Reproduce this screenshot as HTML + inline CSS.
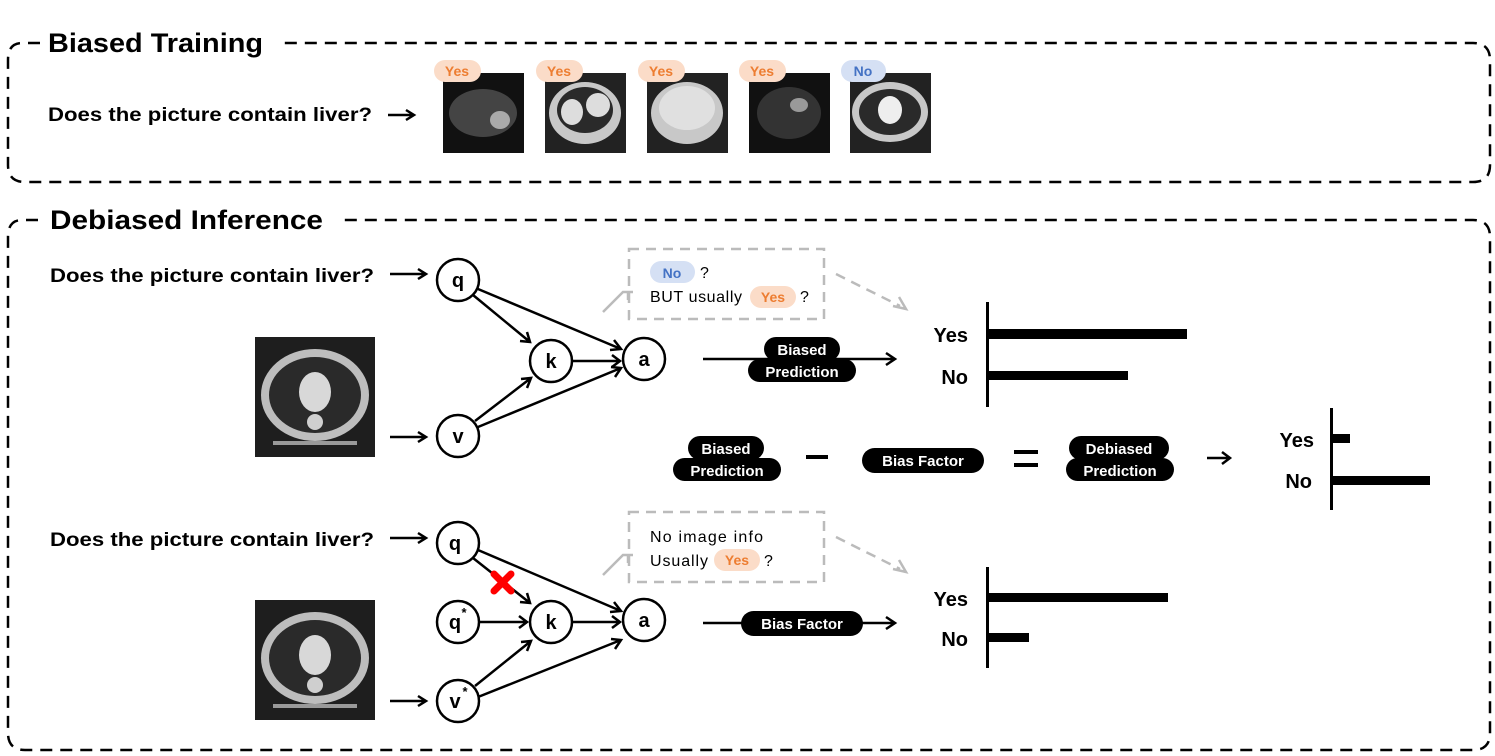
<!DOCTYPE html>
<html><head><meta charset="utf-8"><style>
html,body{margin:0;padding:0;background:#fff}
svg{display:block}
text{font-family:"Liberation Sans",sans-serif}
.b{font-weight:bold}
</style></head><body>
<svg width="1495" height="756" viewBox="0 0 1495 756" xmlns="http://www.w3.org/2000/svg">
<defs>
<marker id="ar" viewBox="0 0 10 10" refX="9" refY="5" markerWidth="7" markerHeight="7" orient="auto" markerUnits="userSpaceOnUse">
</marker>
<g id="ct">
<rect x="0" y="0" width="120" height="120" fill="#1e1e1e"/>
<ellipse cx="60" cy="58" rx="54" ry="46" fill="#bdbdbd"/>
<ellipse cx="60" cy="58" rx="46" ry="38" fill="#2a2a2a"/>
<ellipse cx="60" cy="55" rx="16" ry="20" fill="#d8d8d8"/>
<ellipse cx="60" cy="85" rx="8" ry="8" fill="#cfcfcf"/>
<rect x="18" y="104" width="84" height="4" fill="#999"/>
</g>
</defs>
<g fill="none" stroke="#000" stroke-width="2.5" stroke-dasharray="12,8">
<path d="M40 43 H22 Q8 43 8 60 V165 Q8 182 25 182 H1473 Q1490 182 1490 165 V60 Q1490 43 1473 43 H280"/>
<path d="M38 220 H22 Q8 220 8 237 V733 Q8 750 25 750 H1473 Q1490 750 1490 733 V237 Q1490 220 1473 220 H340"/>
</g>
<text x="48" y="52" class="b" font-size="27" textLength="215" lengthAdjust="spacingAndGlyphs">Biased Training</text>
<text x="50" y="229" class="b" font-size="27" textLength="273" lengthAdjust="spacingAndGlyphs">Debiased Inference</text>
<text x="48" y="121" class="b" font-size="19" textLength="324" lengthAdjust="spacingAndGlyphs">Does the picture contain liver?</text>
<text x="50" y="282" class="b" font-size="19" textLength="324" lengthAdjust="spacingAndGlyphs">Does the picture contain liver?</text>
<text x="50" y="546" class="b" font-size="19" textLength="324" lengthAdjust="spacingAndGlyphs">Does the picture contain liver?</text>
<g stroke="#000" stroke-width="2.5" fill="none">
<path d="M388 115 H414 M406 110 L414 115 L406 120"/>
<path d="M390 274 H426 M418 269 L426 274 L418 279"/>
<path d="M390 437 H426 M418 432 L426 437 L418 442"/>
<path d="M390 538 H426 M418 533 L426 538 L418 543"/>
<path d="M390 701 H426 M418 696 L426 701 L418 706"/>
</g>
<!-- top images -->
<g>
<rect x="443" y="73" width="81" height="80" fill="#111"/><ellipse cx="483" cy="113" rx="34" ry="24" fill="#444"/><ellipse cx="500" cy="120" rx="10" ry="9" fill="#aaa"/>
<rect x="545" y="73" width="81" height="80" fill="#222"/><ellipse cx="585" cy="113" rx="36" ry="31" fill="#c8c8c8"/><ellipse cx="585" cy="110" rx="28" ry="23" fill="#2a2a2a"/><ellipse cx="572" cy="112" rx="11" ry="13" fill="#ddd"/><ellipse cx="598" cy="105" rx="12" ry="12" fill="#ddd"/>
<rect x="647" y="73" width="81" height="80" fill="#222"/><ellipse cx="687" cy="113" rx="36" ry="31" fill="#c8c8c8"/><ellipse cx="687" cy="108" rx="28" ry="22" fill="#e0e0e0"/>
<rect x="749" y="73" width="81" height="80" fill="#111"/><ellipse cx="789" cy="113" rx="32" ry="26" fill="#333"/><ellipse cx="799" cy="105" rx="9" ry="7" fill="#999"/>
<rect x="850" y="73" width="81" height="80" fill="#222"/><ellipse cx="890" cy="112" rx="38" ry="30" fill="#c8c8c8"/><ellipse cx="890" cy="112" rx="31" ry="23" fill="#2a2a2a"/><ellipse cx="890" cy="110" rx="12" ry="14" fill="#eee"/>
</g>
<g font-size="14" class="b" text-anchor="middle">
<rect x="434" y="60" width="47" height="22" rx="11" fill="#fbdcc8"/><text x="457" y="76" fill="#ed7d31">Yes</text>
<rect x="536" y="60" width="47" height="22" rx="11" fill="#fbdcc8"/><text x="559" y="76" fill="#ed7d31">Yes</text>
<rect x="638" y="60" width="47" height="22" rx="11" fill="#fbdcc8"/><text x="661" y="76" fill="#ed7d31">Yes</text>
<rect x="739" y="60" width="47" height="22" rx="11" fill="#fbdcc8"/><text x="762" y="76" fill="#ed7d31">Yes</text>
<rect x="841" y="60" width="45" height="22" rx="11" fill="#d5e0f4"/><text x="863" y="76" fill="#4472c4">No</text>
</g>
<use href="#ct" x="255" y="337"/>
<use href="#ct" x="255" y="600"/>
<!-- graph top -->
<g stroke="#000" stroke-width="2.5" fill="none">
<path d="M473 295 L530 342 M520 341 L530 342 L527 332"/>
<path d="M478 289 L621 349 M610 350 L621 349 L614 340"/>
<path d="M572 361 H620 M612 355 L620 361 L612 367"/>
<path d="M475 421 L531 378 M521 379 L531 378 L527 388"/>
<path d="M478 427 L621 368 M611 367 L621 368 L615 377"/>
<circle cx="458" cy="280" r="21" fill="#fff"/>
<circle cx="551" cy="361" r="21" fill="#fff"/>
<circle cx="644" cy="359" r="21" fill="#fff"/>
<circle cx="458" cy="436" r="21" fill="#fff"/>
</g>
<!-- graph bottom -->
<g stroke="#000" stroke-width="2.5" fill="none">
<path d="M473 558 L530 603 M520 602 L530 603 L527 593"/>
<path d="M478 550 L621 611 M610 612 L621 611 L614 602"/>
<path d="M480 622 H527 M519 616 L527 622 L519 628"/>
<path d="M572 622 H620 M612 616 L620 622 L612 628"/>
<path d="M475 686 L531 641 M521 642 L531 641 L527 651"/>
<path d="M478 697 L621 640 M611 639 L621 640 L615 649"/>
<circle cx="458" cy="543" r="21" fill="#fff"/>
<circle cx="458" cy="622" r="21" fill="#fff"/>
<circle cx="551" cy="622" r="21" fill="#fff"/>
<circle cx="644" cy="620" r="21" fill="#fff"/>
<circle cx="458" cy="701" r="21" fill="#fff"/>
</g>
<g stroke="#f00" stroke-width="7" stroke-linecap="round"><path d="M494 574 L511 591 M511 574 L494 591"/></g>
<g class="b" font-size="20" text-anchor="middle">
<text x="458" y="287">q</text><text x="551" y="368">k</text><text x="644" y="366">a</text><text x="458" y="443">v</text>
<text x="455" y="550">q</text><text x="455" y="629">q</text><text x="464" y="617" font-size="13">*</text><text x="551" y="629">k</text><text x="644" y="627">a</text><text x="455" y="708">v</text><text x="465" y="696" font-size="13">*</text>
</g>
<!-- dashed callouts -->
<g fill="none" stroke="#bbb" stroke-width="2.5" stroke-dasharray="10,7">
<rect x="629" y="249" width="195" height="70"/>
<rect x="629" y="512" width="195" height="70"/>
<path d="M836 274 L900 306"/><path d="M836 537 L900 569"/>
</g>
<g fill="none" stroke="#bbb" stroke-width="2.5">
<path d="M603 312 L623 292 H633 M628 292 V300"/>
<path d="M603 575 L623 555 H633 M628 555 V563"/>
<path d="M893 306 L906 309 L899 297"/><path d="M893 569 L906 572 L899 560"/>
</g>
<rect x="650" y="261" width="45" height="22" rx="11" fill="#d5e0f4"/>
<text x="672" y="278" font-size="14" class="b" fill="#4472c4" text-anchor="middle">No</text>
<text x="700" y="278" font-size="16">?</text>
<text x="650" y="302" font-size="16" textLength="92">BUT usually</text>
<rect x="750" y="286" width="46" height="22" rx="11" fill="#fbdcc8"/>
<text x="773" y="302" font-size="14" class="b" fill="#ed7d31" text-anchor="middle">Yes</text>
<text x="800" y="302" font-size="16">?</text>
<text x="650" y="542" font-size="16" textLength="113">No image info</text>
<text x="650" y="566" font-size="16" textLength="58">Usually</text>
<rect x="714" y="549" width="46" height="22" rx="11" fill="#fbdcc8"/>
<text x="737" y="565" font-size="14" class="b" fill="#ed7d31" text-anchor="middle">Yes</text>
<text x="764" y="566" font-size="16">?</text>
<!-- prediction arrows -->
<g stroke="#000" stroke-width="2.5" fill="none">
<path d="M703 359 H895 M886 353 L895 359 L886 365"/>
<path d="M703 623 H895 M886 617 L895 623 L886 629"/>
<path d="M1207 458 H1230 M1222 452 L1230 458 L1222 464"/>
</g>
<g fill="#000">
<rect x="764" y="337" width="76" height="24" rx="12"/><rect x="748" y="359" width="108" height="23" rx="11.5"/>
<rect x="741" y="611" width="122" height="25" rx="12.5"/>
<rect x="688" y="436" width="76" height="24" rx="12"/><rect x="673" y="458" width="108" height="23" rx="11.5"/>
<rect x="862" y="448" width="122" height="25" rx="12.5"/>
<rect x="1069" y="436" width="100" height="24" rx="12"/><rect x="1066" y="458" width="108" height="23" rx="11.5"/>
<rect x="806" y="455" width="22" height="4"/>
<rect x="1014" y="450" width="24" height="4"/><rect x="1014" y="463" width="24" height="4"/>
</g>
<g fill="#fff" class="b" font-size="15" text-anchor="middle">
<text x="802" y="355">Biased</text><text x="802" y="377">Prediction</text>
<text x="802" y="629">Bias Factor</text>
<text x="726" y="454">Biased</text><text x="727" y="476">Prediction</text>
<text x="923" y="466">Bias Factor</text>
<text x="1119" y="454">Debiased</text><text x="1120" y="476">Prediction</text>
</g>
<!-- bar charts -->
<g fill="#000">
<rect x="986" y="302" width="3" height="105"/><rect x="986" y="329" width="201" height="10"/><rect x="986" y="371" width="142" height="9"/>
<rect x="1330" y="408" width="3" height="102"/><rect x="1330" y="434" width="20" height="9"/><rect x="1330" y="476" width="100" height="9"/>
<rect x="986" y="567" width="3" height="101"/><rect x="986" y="593" width="182" height="9"/><rect x="986" y="633" width="43" height="9"/>
</g>
<g class="b" font-size="20" text-anchor="end">
<text x="968" y="342">Yes</text><text x="968" y="384">No</text>
<text x="1314" y="447">Yes</text><text x="1312" y="488">No</text>
<text x="968" y="606">Yes</text><text x="968" y="646">No</text>
</g>
</svg>
</body></html>
